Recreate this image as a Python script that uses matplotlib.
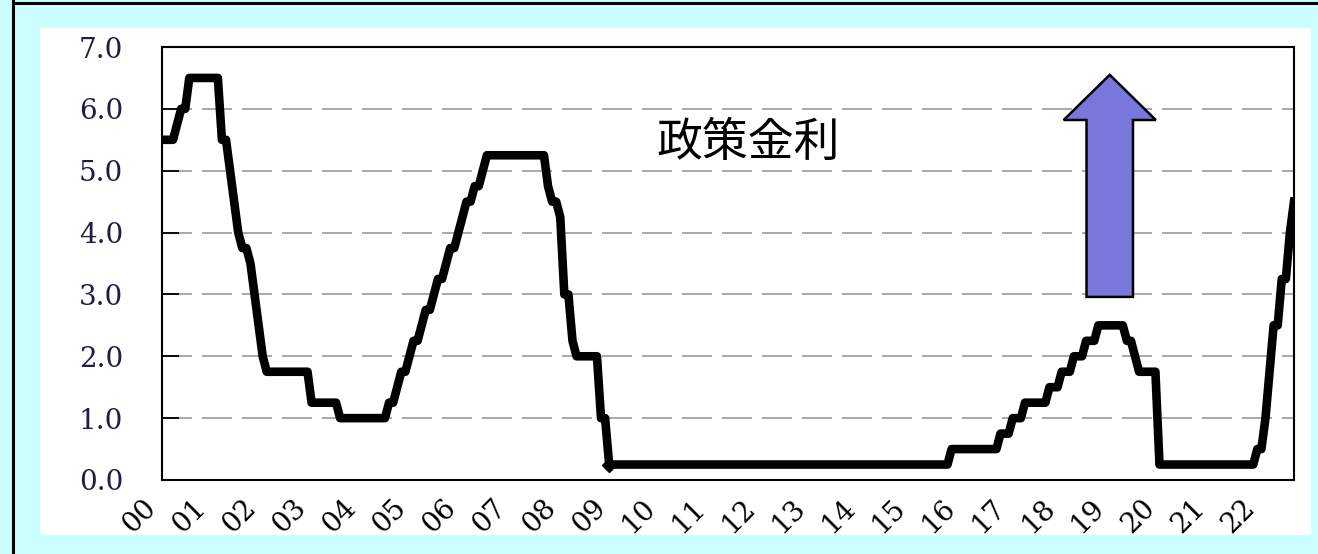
import numpy as np
import matplotlib
matplotlib.use("Agg")
import matplotlib.pyplot as plt
from matplotlib.patches import Rectangle, FancyArrow
from matplotlib.lines import Line2D
from matplotlib.transforms import ScaledTranslation

# Policy rate (upper bound), monthly, Nov 1999 .. Dec 2022
rate = [
    5.5, 5.5,                                                          # 1999 Nov-Dec
    5.5, 5.75, 6.0, 6.0, 6.5, 6.5, 6.5, 6.5, 6.5, 6.5, 6.5, 6.5,       # 2000
    5.5, 5.5, 5.0, 4.5, 4.0, 3.75, 3.75, 3.5, 3.0, 2.5, 2.0, 1.75,     # 2001
    1.75, 1.75, 1.75, 1.75, 1.75, 1.75, 1.75, 1.75, 1.75, 1.75, 1.25, 1.25,  # 2002
    1.25, 1.25, 1.25, 1.25, 1.25, 1.0, 1.0, 1.0, 1.0, 1.0, 1.0, 1.0,   # 2003
    1.0, 1.0, 1.0, 1.0, 1.0, 1.25, 1.25, 1.5, 1.75, 1.75, 2.0, 2.25,   # 2004
    2.25, 2.5, 2.75, 2.75, 3.0, 3.25, 3.25, 3.5, 3.75, 3.75, 4.0, 4.25,  # 2005
    4.5, 4.5, 4.75, 4.75, 5.0, 5.25, 5.25, 5.25, 5.25, 5.25, 5.25, 5.25,  # 2006
    5.25, 5.25, 5.25, 5.25, 5.25, 5.25, 5.25, 5.25, 4.75, 4.5, 4.5, 4.25,  # 2007
    3.0, 3.0, 2.25, 2.0, 2.0, 2.0, 2.0, 2.0, 2.0, 1.0, 1.0, 0.25,      # 2008
    0.25, 0.25, 0.25, 0.25, 0.25, 0.25, 0.25, 0.25, 0.25, 0.25, 0.25, 0.25,  # 2009
    0.25, 0.25, 0.25, 0.25, 0.25, 0.25, 0.25, 0.25, 0.25, 0.25, 0.25, 0.25,  # 2010
    0.25, 0.25, 0.25, 0.25, 0.25, 0.25, 0.25, 0.25, 0.25, 0.25, 0.25, 0.25,  # 2011
    0.25, 0.25, 0.25, 0.25, 0.25, 0.25, 0.25, 0.25, 0.25, 0.25, 0.25, 0.25,  # 2012
    0.25, 0.25, 0.25, 0.25, 0.25, 0.25, 0.25, 0.25, 0.25, 0.25, 0.25, 0.25,  # 2013
    0.25, 0.25, 0.25, 0.25, 0.25, 0.25, 0.25, 0.25, 0.25, 0.25, 0.25, 0.25,  # 2014
    0.25, 0.25, 0.25, 0.25, 0.25, 0.25, 0.25, 0.25, 0.25, 0.25, 0.25, 0.5,   # 2015
    0.5, 0.5, 0.5, 0.5, 0.5, 0.5, 0.5, 0.5, 0.5, 0.5, 0.5, 0.75,       # 2016
    0.75, 0.75, 1.0, 1.0, 1.0, 1.25, 1.25, 1.25, 1.25, 1.25, 1.25, 1.5,  # 2017
    1.5, 1.5, 1.75, 1.75, 1.75, 2.0, 2.0, 2.0, 2.25, 2.25, 2.25, 2.5,  # 2018
    2.5, 2.5, 2.5, 2.5, 2.5, 2.5, 2.25, 2.25, 2.0, 1.75, 1.75, 1.75,   # 2019
    1.75, 1.75, 0.25, 0.25, 0.25, 0.25, 0.25, 0.25, 0.25, 0.25, 0.25, 0.25,  # 2020
    0.25, 0.25, 0.25, 0.25, 0.25, 0.25, 0.25, 0.25, 0.25, 0.25, 0.25, 0.25,  # 2021
    0.25, 0.25, 0.5, 0.5, 1.0, 1.75, 2.5, 2.5, 3.25, 3.25, 4.0, 4.5,   # 2022
]
start_month = -2          # first point is Nov 1999 (months from Jan 2000)
year_labels = ["%02d" % y for y in range(0, 23)]
y_ticks = [0, 1, 2, 3, 4, 5, 6, 7]
title_text = "政策金利"

months = np.arange(len(rate)) + start_month

fig = plt.figure(figsize=(13.18, 5.54), dpi=100)
fig.patch.set_facecolor("#CCFFFF")

# white panel and the black frame edges
fig.patches.append(Rectangle((40 / 1318, 1 - 535 / 554), 1271 / 1318, 507 / 554,
                             transform=fig.transFigure, facecolor="white",
                             edgecolor="none", zorder=-10))
fig.lines.append(Line2D([12.5 / 1318, 12.5 / 1318], [0, 1], transform=fig.transFigure,
                        color="black", lw=2.2))
fig.lines.append(Line2D([12.5 / 1318, 1], [1 - 2.5 / 554, 1 - 2.5 / 554],
                        transform=fig.transFigure, color="black", lw=2.2))

ax = fig.add_axes([162 / 1318, 1 - 480 / 554, (1294 - 162) / 1318, (480 - 47) / 554])
ax.set_facecolor("white")

ax.plot(months, rate, color="black", lw=6.2, solid_joinstyle="round",
        marker="D", markersize=7, markevery=[rate.index(0.25)], zorder=3)

ax.set_xlim(start_month, months[-1])
ax.set_ylim(0, 7)

ax.set_yticks(y_ticks)
ax.set_yticklabels(["%.1f" % v for v in y_ticks], family="DejaVu Serif",
                   fontsize=20, color="#1e1e44")
ax.tick_params(axis="y", direction="in", length=12, width=1.3, pad=28, color="black")

# year labels sit on a slightly wider pitch than the monthly data
ax.set_xticks(np.arange(len(year_labels)) * 12.25 - 2.7)
ax.set_xticklabels(year_labels, rotation=45, ha="right", va="center",
                   rotation_mode="anchor", family="DejaVu Serif", fontsize=20)
ax.tick_params(axis="x", length=0, pad=17)
for lab in ax.get_xticklabels():
    lab.set_transform(lab.get_transform() + ScaledTranslation(-10 / 100, 0, fig.dpi_scale_trans))

for y in y_ticks[1:-1]:
    ax.axhline(y, color="#999999", lw=1.2, linestyle=(0, (18, 6)), zorder=1)

for s in ax.spines.values():
    s.set_linewidth(1.5)
    s.set_color("black")

ax.text(118.5, 5.46, title_text, family=["Noto Sans CJK JP", "DejaVu Sans"],
        fontsize=33, ha="left", va="center", color="black")

# upward arrow
arrow_x, arrow_base, arrow_tip = 229.8, 2.96, 6.55
ax.add_patch(FancyArrow(arrow_x, arrow_base, 0, arrow_tip - arrow_base, width=11.4,
                        head_width=22.6, head_length=0.73, length_includes_head=True,
                        facecolor="#7878DC", edgecolor="black", lw=1.8, zorder=4))

fig.savefig("out.png", dpi=100, facecolor=fig.get_facecolor())
